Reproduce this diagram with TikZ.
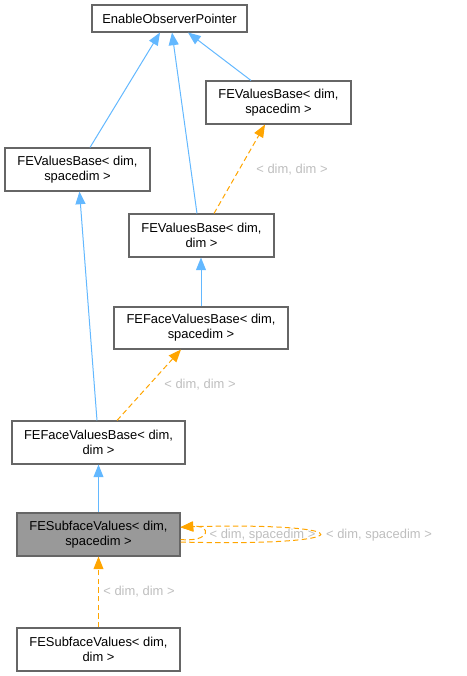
\documentclass[tikz,border=0pt]{standalone}
\usepackage{fontspec}
\setmainfont{Liberation Sans}
\usetikzlibrary{arrows.meta,calc}
\definecolor{boxgrey}{HTML}{666666}
\definecolor{edgeblue}{HTML}{63B8FF}
\definecolor{edgeorange}{HTML}{FFA500}
\definecolor{lblgrey}{HTML}{BEBEBE}
\definecolor{curfill}{HTML}{999999}
\begin{document}
\begin{tikzpicture}[x=0.75pt,y=-0.75pt,
  cls/.style={draw=boxgrey, line width=0.8pt, fill=white, inner sep=0pt, align=center,
    font=\fontsize{9.7}{11.25}\selectfont, text=black},
  sz/.style 2 args={minimum width=#1*0.75pt, minimum height=#2*0.75pt},
  inh/.style={draw=edgeblue, line width=0.75pt, -{Triangle[length=9.5pt,width=7.5pt]}},
  tmpl/.style={draw=edgeorange, line width=0.75pt, dash pattern=on 4pt off 2.5pt,
    -{Triangle[length=9.5pt,width=7.5pt]}},
  lbl/.style={text=lblgrey, inner sep=0pt, font=\fontsize{9.7}{11.25}\selectfont}]
\useasboundingbox (0,0) rectangle (467,676);

\node[cls, sz={155}{27}] (eop) at (169.5,18.5) {EnableObserverPointer};
\node[cls, sz={145}{43}] (fvbR) at (278.5,102.5) {FEValuesBase< dim,\\spacedim >};
\node[cls, sz={145}{43}] (fvbL) at (77.5,169.5) {FEValuesBase< dim,\\spacedim >};
\node[cls, sz={145}{43}] (fvbDD) at (201.5,235.5) {FEValuesBase< dim,\\dim >};
\node[cls, sz={174}{42}] (ffvbDS) at (201,328) {FEFaceValuesBase< dim,\\spacedim >};
\node[cls, sz={173}{43}] (ffvbDD) at (98.5,442.5) {FEFaceValuesBase< dim,\\dim >};
\node[cls, sz={163}{43}, fill=curfill] (subDS) at (98.5,534.5) {FESubfaceValues< dim,\\spacedim >};
\node[cls, sz={163}{43}] (subDD) at (98.5,649.5) {FESubfaceValues< dim,\\dim >};

% inheritance edges
\draw[inh] ($(fvbL.north)+(12.5,0)$) -- ($(eop.south)+(-9.5,0)$);
\draw[inh] ($(fvbDD.north)+(-4.5,0)$) -- ($(eop.south)+(2.5,0)$);
\draw[inh] ($(fvbR.north)+(-27.5,0)$) -- ($(eop.south)+(18.5,0)$);
\draw[inh] (ffvbDS.north) -- (ffvbDS.north |- fvbDD.south);
\draw[inh] ($(ffvbDD.north)+(-1.5,0)$) -- ($(fvbL.south)+(2,0)$);
\draw[inh] (subDS.north) -- (ffvbDD.south);

% template edges
\draw[tmpl] ($(fvbDD.north)+(12.5,0)$) -- ($(fvbR.south)+(-13.5,0)$);
\node[lbl] (l1) at (292,170) {< dim, dim >};
\draw[tmpl] ($(ffvbDD.north)+(18.5,0)$) -- ($(ffvbDS.south)+(-20,0)$);
\node[lbl] (l2) at (200,385) {< dim, dim >};
\draw[tmpl] (subDD.north) -- (subDS.south);
\node[lbl] (l3) at (139,592) {< dim, dim >};

% self loops
\draw[tmpl] ($(subDS.east)+(0,5)$) .. controls +(31,3) and +(31,-3) .. ($(subDS.east)+(0,-7)$);
\node[lbl] (l4) at (262.5,535) {< dim, spacedim >};
\draw[tmpl] ($(subDS.east)+(0,7.5)$) .. controls +(185,5) and +(185,-5) .. ($(subDS.east)+(0,-7.5)$);
\node[lbl] (l5) at (379,535) {< dim, spacedim >};
\end{tikzpicture}
\end{document}
